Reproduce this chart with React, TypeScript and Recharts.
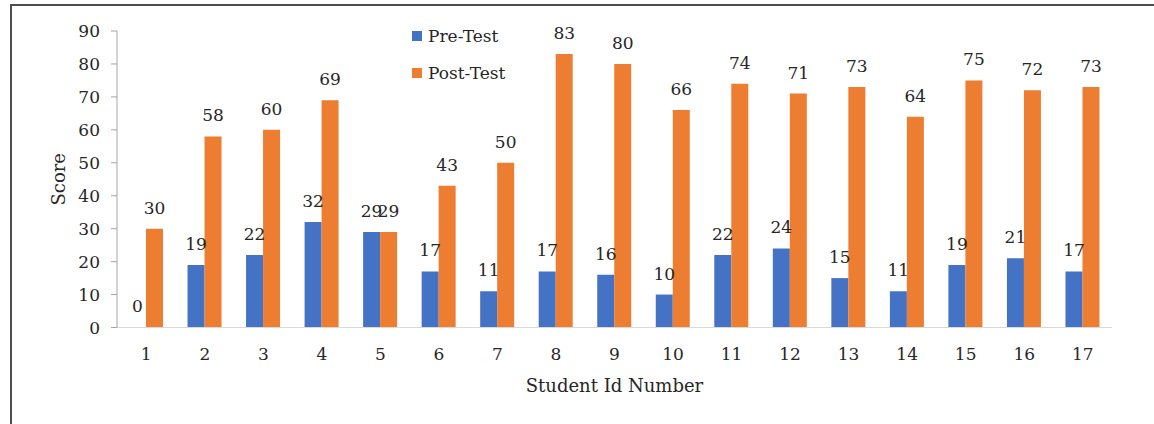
import React from 'react';
import { BarChart, Bar, XAxis, YAxis, Legend, LabelList } from 'recharts';

const studentIds = ['1', '2', '3', '4', '5', '6', '7', '8', '9', '10', '11', '12', '13', '14', '15', '16', '17'];
const preTest = [0, 19, 22, 32, 29, 17, 11, 17, 16, 10, 22, 24, 15, 11, 19, 21, 17];
const postTest = [30, 58, 60, 69, 29, 43, 50, 83, 80, 66, 74, 71, 73, 64, 75, 72, 73];
const yTicks = [0, 10, 20, 30, 40, 50, 60, 70, 80, 90];
const seriesOrder = ['pre', 'post'];

const data = studentIds.map((id, i) => ({ id, pre: preTest[i], post: postTest[i] }));

const FONT = '"DejaVu Serif", "Liberation Serif", serif';
const TEXT = '#262626';

const LegendContent = (props: any) => {
  const payload = [...(props.payload || [])].sort(
    (a: any, b: any) => seriesOrder.indexOf(a.dataKey) - seriesOrder.indexOf(b.dataKey)
  );
  return (
    <div style={{ fontFamily: FONT, fontSize: 17, color: TEXT }}>
      {payload.map((p: any) => (
        <div key={p.value} style={{ display: 'flex', alignItems: 'center', height: 37 }}>
          <span style={{ display: 'inline-block', width: 10, height: 10, background: p.color, marginRight: 6 }} />
          <span>{p.value}</span>
        </div>
      ))}
    </div>
  );
};

const zeroMin = (value: any) => (value === 0 ? 0.1 : 0);

export default function App() {
  return (
    <div style={{ position: 'fixed', left: 0, top: 0, width: 1154, height: 424, overflow: 'hidden', background: '#fff' }}>
      <div style={{ position: 'absolute', left: 10, top: 4, width: 1200, height: 500, border: '2px solid #4d4d4d' }} />
      <div style={{ position: 'absolute', left: 0, top: 0 }}>
        <BarChart width={1154} height={424} data={data} margin={{ top: 31, right: 42, left: 47, bottom: 0 }} barSize={17} barGap={0}>
          <XAxis
            dataKey="id"
            height={96.5}
            tickLine={false}
            axisLine={{ stroke: '#d9d9d9' }}
            tickSize={0}
            tickMargin={20}
            tick={{ fill: TEXT, fontSize: 17, fontFamily: FONT }}
            interval={0}
            label={{ value: 'Student Id Number', position: 'insideBottom', offset: 32, fill: TEXT, fontSize: 18, fontFamily: FONT }}
          />
          <YAxis
            width={70}
            domain={[0, 90]}
            ticks={yTicks}
            interval={0}
            axisLine={{ stroke: '#a6a6a6' }}
            tickLine={{ stroke: '#a6a6a6' }}
            tickSize={6}
            tickMargin={11}
            tick={{ fill: TEXT, fontSize: 17, fontFamily: FONT }}
            label={{ value: 'Score', angle: -90, position: 'insideLeft', offset: 12, fill: TEXT, fontSize: 18, fontFamily: FONT, style: { textAnchor: 'middle' } }}
          />
          <Legend
            layout="vertical"
            verticalAlign="middle"
            align="center"
            content={<LegendContent />}
            wrapperStyle={{ position: 'absolute', left: 412, top: 17, width: 140 }}
          />
          <Bar dataKey="pre" name="Pre-Test" fill="#4472C4" minPointSize={zeroMin} isAnimationActive={false}>
            <LabelList dataKey="pre" position="top" offset={15} fill={TEXT} fontSize={17} fontFamily={FONT} />
          </Bar>
          <Bar dataKey="post" name="Post-Test" fill="#ED7D31" isAnimationActive={false}>
            <LabelList dataKey="post" position="top" offset={15} fill={TEXT} fontSize={17} fontFamily={FONT} />
          </Bar>
        </BarChart>
      </div>
    </div>
  );
}
